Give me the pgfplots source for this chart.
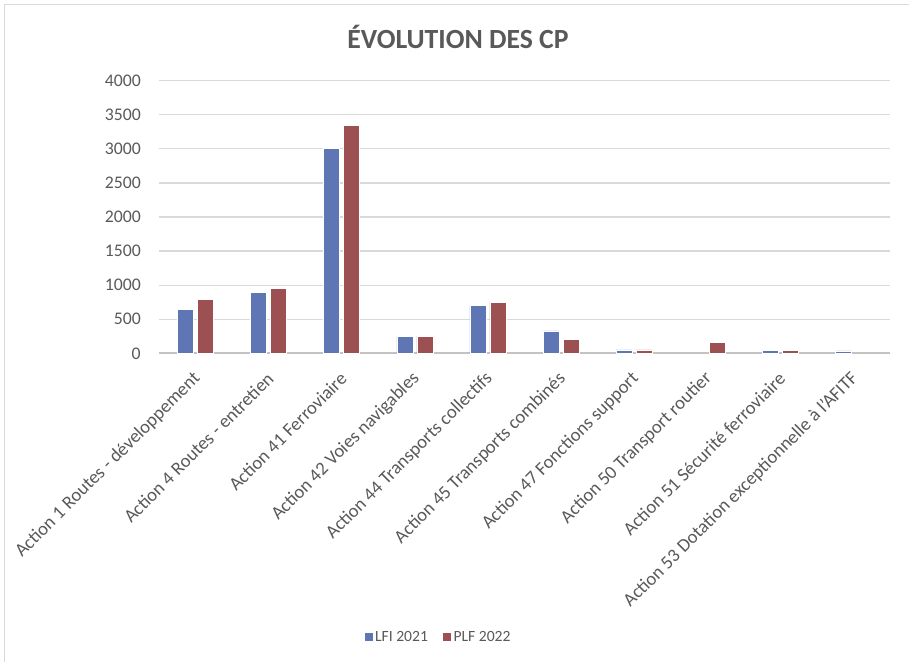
\documentclass[border=0pt]{standalone}
\usepackage{fontspec}
\setmainfont{Carlito}
\usepackage{pgfplots}
\pgfplotsset{compat=1.18}

\definecolor{lfi}{HTML}{5F76B4}
\definecolor{plf}{HTML}{9D5051}
\definecolor{txt}{HTML}{595959}
\definecolor{gridc}{HTML}{D9D9D9}
\definecolor{framec}{HTML}{D9D9D9}

\begin{document}
\begin{tikzpicture}
  % page area and the frame of the chart
  \path[use as bounding box] (0pt,0pt) rectangle (681.75pt,-496.5pt);
  \draw[framec, line width=1.2pt] (3.375pt,-496.5pt) -- (3.375pt,-3.375pt) -- (681.75pt,-3.375pt);

  % title
  \node[anchor=base, text=txt, font=\fontsize{20.8}{25}\selectfont\bfseries]
    at (343.5pt,-36.4pt) {ÉVOLUTION DES CP};

  \begin{axis}[
    at={(119.25pt,-264.975pt)}, anchor=south west,
    scale only axis,
    width=548.25pt, height=204.45pt,
    xmin=-0.5, xmax=9.5,
    ymin=0, ymax=4000,
    ytick={0,500,...,4000},
    xtick={0,...,9},
    xticklabels={
      Action 1 Routes - développement,
      Action 4 Routes - entretien,
      Action 41 Ferroviaire,
      Action 42 Voies navigables,
      Action 44 Transports collectifs,
      Action 45 Transports combinés,
      Action 47 Fonctions support,
      Action 50 Transport routier,
      Action 51 Sécurité ferroviaire,
      Action 53 Dotation exceptionnelle à l\char39\relax AFITF},
    axis line style={draw=none},
    major tick length=0pt,
    ymajorgrids,
    grid style={gridc, line width=0.9pt},
    extra y ticks={0},
    extra y tick labels={},
    extra y tick style={grid style={draw=gridc!90!black, line width=1.5pt}},
    scaled y ticks=false,
    /pgf/number format/assume math mode=true,
    /pgf/number format/1000 sep={},
    tick label style={text=txt, font=\fontsize{13.3}{16}\selectfont},
    yticklabel style={anchor=east, inner sep=0pt, xshift=-13.5pt},
    xticklabel style={rotate=45, anchor=east, inner sep=0pt,
      font=\fontsize{14}{17}\selectfont, xshift=-10.85pt, yshift=-12.8pt},
    ybar=3pt, bar width=12pt,
    legend columns=2,
    legend style={at={(0.3817,-1.041)}, anchor=center, draw=none, fill=none,
      font=\fontsize{11.7}{14}\selectfont, text=txt,
      /tikz/every even column/.append style={column sep=9pt},
      /tikz/every odd column/.append style={column sep=0pt},
      nodes={inner sep=1.5pt}},
    legend image code/.code={\fill[#1] (0pt,-3.4pt) rectangle (6.8pt,3.4pt);},
  ]
    % LFI 2021 (no credit for action 50)
    \addplot[fill=lfi, draw=white, line width=0.4pt] coordinates {
      (0,645) (1,890) (2,3007) (3,250) (4,705)
      (5,328) (6,49) (8,44) (9,34)};
    % PLF 2022 (no credit for action 53)
    \addplot[fill=plf, draw=white, line width=0.4pt] coordinates {
      (0,792) (1,955) (2,3345) (3,253) (4,749)
      (5,206) (6,49) (7,157) (8,44)};
    \legend{LFI 2021, PLF 2022}
  \end{axis}
\end{tikzpicture}
\end{document}
